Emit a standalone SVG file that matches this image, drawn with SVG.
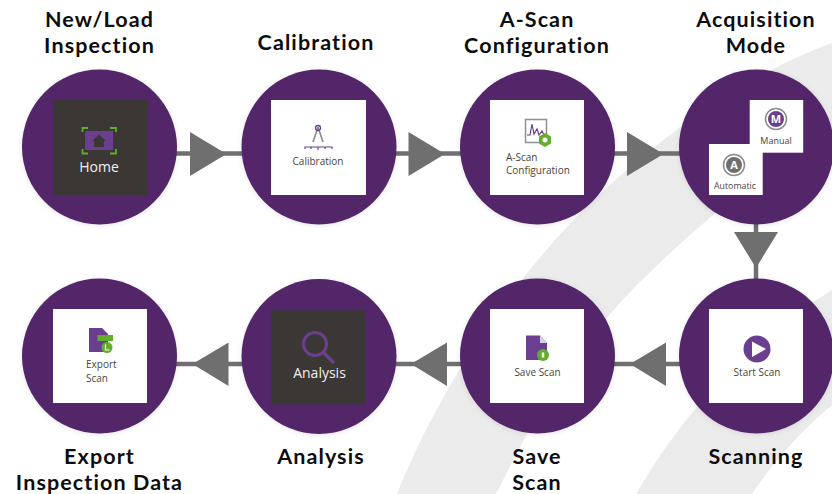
<svg xmlns="http://www.w3.org/2000/svg" width="832" height="494" viewBox="0 0 832 494">
<defs>
<style>
.lbl{font:700 21.500px "Lato","Liberation Sans",sans-serif;fill:#0d0d0d;text-anchor:middle;letter-spacing:1.100px}
.band{fill:#ebebeb}
.disc{fill:#52266b;filter:url(#soft)}
.card{fill:#fff}
.dark{fill:#3b3735}
.cap{font:400 10px "Open Sans","Liberation Sans",sans-serif;fill:#4a4440;text-anchor:middle}
.capw{font:400 14px "Open Sans","Liberation Sans",sans-serif;fill:#f2f0f2;text-anchor:middle}
.ink{fill:#6b3f8f}
.grn{fill:#62ad2c}
.wire{stroke:#6f6f6f;stroke-width:4.5;fill:none}
.head{fill:#6f6f6f}
.mono{font:700 11px "Open Sans","Liberation Sans",sans-serif;fill:#fff;text-anchor:middle}
</style>
<filter id="soft" x="-10%" y="-10%" width="120%" height="120%"><feDropShadow dx="0" dy="1" stdDeviation="2.5" flood-color="#000" flood-opacity=".1"/></filter>
</defs>
<rect width="832" height="494" fill="#fff"/>
<g id="background">
<path class="band" d="M832,43C735,78 625,160 549,247C490,315 435,400 397,494H496C535,415 570,355 632,290C690,232 760,170 832,135Z"/>
<path class="band" d="M832,290C750,340 685,410 636,494H752C775,460 800,432 832,405Z"/>
</g>
<g id="connectors">
<path class="wire" d="M176,153.500H242M396,153.500H461M614,153.500H680"/>
<path class="wire" d="M756,224V280"/>
<path class="wire" d="M176,364H242M396,364H461M614,364H680"/>
<path class="head" d="M190,132L226.500,154L190,176Z"/>
<path class="head" d="M408.500,132L445,154L408.500,176Z"/>
<path class="head" d="M627,132L663.500,154L627,176Z"/>
<path class="head" d="M734,232L778,232L756,268Z"/>
<path class="head" d="M666,342.500V386L630,364Z"/>
<path class="head" d="M447,342.500V386L411,364Z"/>
<path class="head" d="M228.500,342.500V386L192.500,364Z"/>
</g>
<g id="node-new-load">
<circle class="disc" cx="99.500" cy="147" r="77.500"/>
<rect class="dark" x="53.300" y="100" width="94" height="95"/>
<path d="M82.500,132V128H88M110,128H116V132M82.500,149V153.500H88M110,153.500H116V149" fill="none" stroke="#62ad2c" stroke-width="1.800"/>
<rect class="ink" x="85" y="131" width="28" height="19"/>
<path d="M99,134.500L106,141H104V147H94V141H92Z" fill="#3b3735"/>
<text class="capw" x="99" y="172">Home</text>
<text class="lbl" x="99.500" y="27">New/Load</text>
<text class="lbl" x="99.500" y="53">Inspection</text>
</g>
<g id="node-calibration">
<circle class="disc" cx="319" cy="147" r="77.500"/>
<rect class="card" x="271" y="100" width="95" height="95"/>
<path d="M318,127L313,142M318,127L323,142" stroke="#8a8a8a" stroke-width="1.600" fill="none"/>
<circle cx="318" cy="128" r="2.500" fill="none" stroke="#6b3f8f" stroke-width="1.300"/>
<path d="M305,149V147H332V149M311,147V149M318,147V150M325,147V149" stroke="#6b3f8f" stroke-width="1.200" fill="none"/>
<text class="cap" x="318" y="165">Calibration</text>
<text class="lbl" x="316" y="50">Calibration</text>
</g>
<g id="node-a-scan">
<circle class="disc" cx="537.500" cy="147" r="77.500"/>
<rect class="card" x="490" y="100" width="94" height="95"/>
<rect x="525.500" y="119.500" width="21" height="23" fill="#fff" stroke="#8f8f8f" stroke-width="1.500"/>
<path d="M527,135L530,135L532,124L534,134L537,129L539,135L542,131L544,135" fill="none" stroke="#6b3f8f" stroke-width="1.200"/>
<path class="grn" d="M545,133L551,136.500V143.500L545,147L539,143.500V136.500Z"/>
<circle cx="545" cy="140" r="2.500" fill="#fff"/>
<text class="cap" style="text-anchor:start" x="506" y="160.500">A-Scan</text>
<text class="cap" style="text-anchor:start" x="506" y="173.500">Configuration</text>
<text class="lbl" x="537" y="27">A-Scan</text>
<text class="lbl" x="537" y="53">Configuration</text>
</g>
<g id="node-acquisition">
<circle class="disc" cx="756.500" cy="147" r="77.500"/>
<rect class="card" x="749.700" y="100" width="53.500" height="52.700"/>
<rect class="card" x="709" y="144" width="53.700" height="51"/>
<circle cx="776" cy="119" r="10.500" fill="none" stroke="#8f8a8f" stroke-width="1.500"/>
<circle cx="776" cy="119" r="8" fill="#6b3f8f"/>
<text class="mono" x="776" y="123">M</text>
<text class="cap" x="776" y="144" style="font-size:9px">Manual</text>
<circle cx="734" cy="165" r="10.500" fill="none" stroke="#8a8a8a" stroke-width="1.500"/>
<circle cx="734" cy="165" r="8" fill="#6f6f6f"/>
<text class="mono" x="734" y="169">A</text>
<text class="cap" x="735" y="189" style="font-size:8.800px">Automatic</text>
<text class="lbl" x="756" y="27">Acquisition</text>
<text class="lbl" x="756" y="53">Mode</text>
</g>
<g id="node-scanning">
<circle class="disc" cx="756.500" cy="356" r="77.500"/>
<rect class="card" x="709" y="309" width="94" height="94"/>
<circle class="ink" cx="757" cy="349" r="13.500"/>
<path d="M752,341.500L766,349L752,357Z" fill="#fff"/>
<text class="cap" x="757" y="376">Start Scan</text>
<text class="lbl" x="756" y="464">Scanning</text>
</g>
<g id="node-save">
<circle class="disc" cx="537.500" cy="356" r="77.500"/>
<rect class="card" x="490" y="309" width="94" height="94"/>
<path class="ink" d="M526,335.500H540L547,343V360H526Z"/>
<path d="M540,335.500V343H547Z" fill="#d9cfe3"/>
<circle class="grn" cx="543" cy="355" r="6"/>
<rect x="541.800" y="352.500" width="2.400" height="5" fill="#fff"/>
<text class="cap" x="537.500" y="376">Save Scan</text>
<text class="lbl" x="537" y="464">Save</text>
<text class="lbl" x="537" y="490">Scan</text>
</g>
<g id="node-analysis">
<circle class="disc" cx="319" cy="356.500" r="77.500"/>
<rect class="dark" x="271" y="310.300" width="95" height="94"/>
<circle cx="315" cy="344" r="11.500" fill="none" stroke="#6b3f8f" stroke-width="3"/>
<path d="M323.500,352.500L334,363" stroke="#6b3f8f" stroke-width="3.500"/>
<text class="capw" x="319.500" y="378">Analysis</text>
<text class="lbl" x="321" y="464">Analysis</text>
</g>
<g id="node-export">
<circle class="disc" cx="99.500" cy="356" r="77.500"/>
<rect class="card" x="53" y="309" width="94" height="94"/>
<path class="ink" d="M89,328H102L108,334V352H89Z"/>
<rect class="grn" x="97.500" y="335" width="15.500" height="6"/>
<circle class="grn" cx="107" cy="347.500" r="5.500"/>
<path d="M105.500,344.500V350H109.500" fill="none" stroke="#fff" stroke-width="1.200"/>
<text class="cap" style="text-anchor:start" x="86" y="368">Export</text>
<text class="cap" style="text-anchor:start" x="86" y="382">Scan</text>
<text class="lbl" x="99.500" y="464">Export</text>
<text class="lbl" x="99.500" y="490">Inspection Data</text>
</g>
</svg>
